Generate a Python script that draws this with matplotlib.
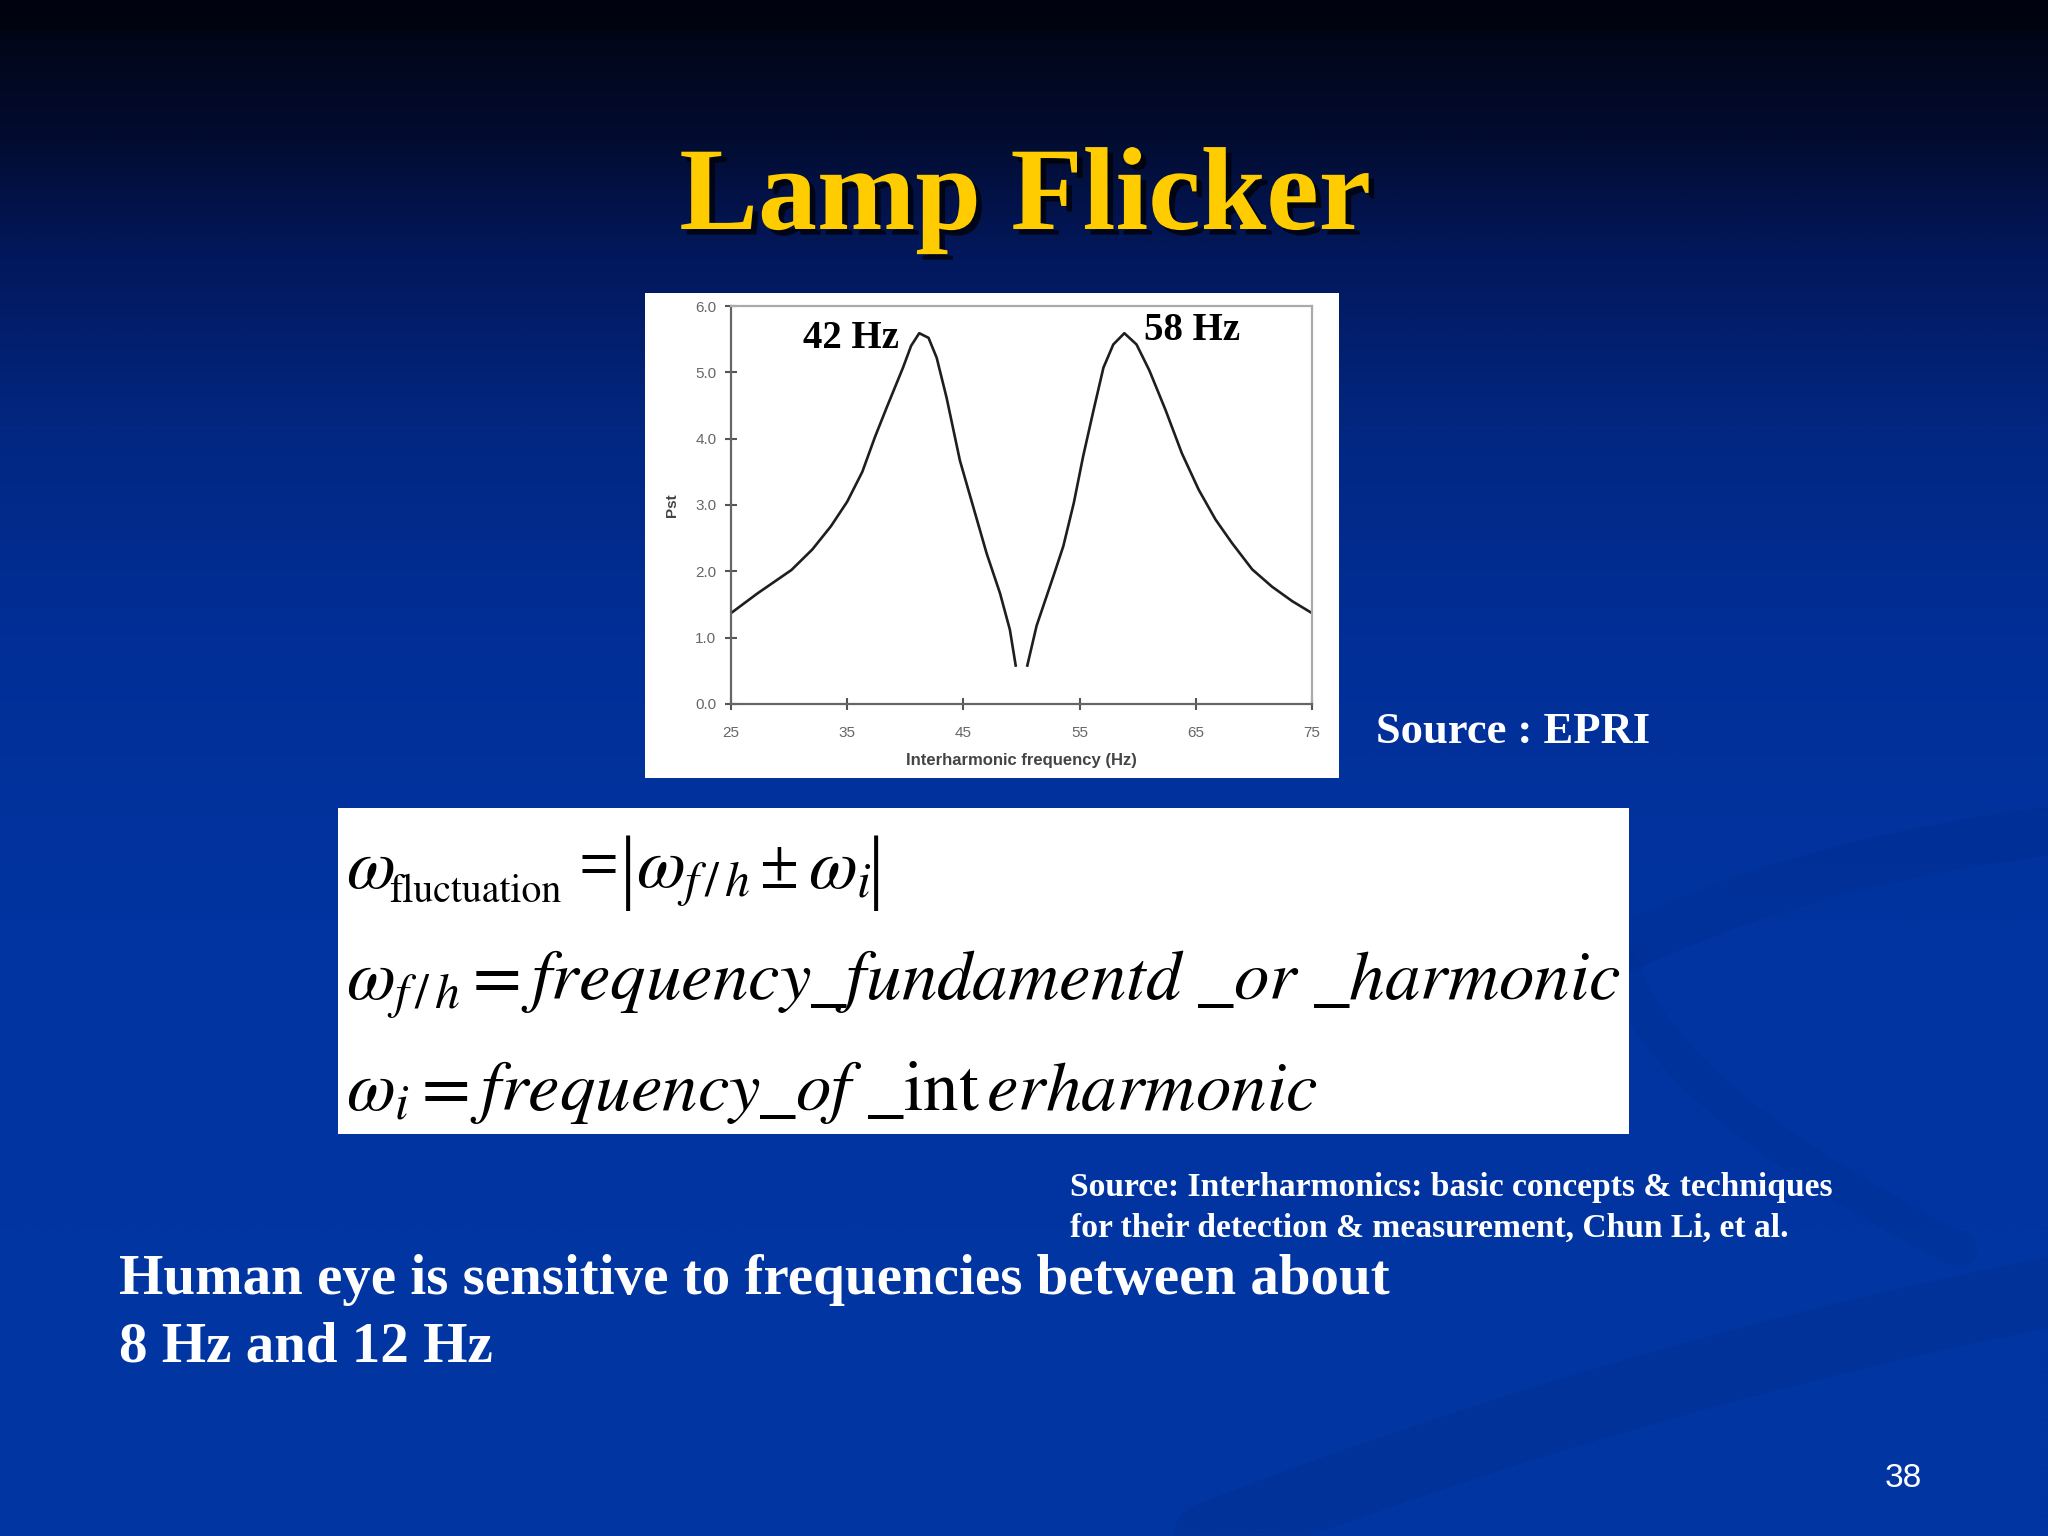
import numpy as np
import matplotlib
matplotlib.use("Agg")
import matplotlib.pyplot as plt
from matplotlib.colors import LinearSegmentedColormap
from matplotlib.patches import Rectangle
import matplotlib.patheffects as pe

# ---------------- data ----------------
freq_hz = [25.0, 27.3, 30.2, 32.0, 33.6, 35.0, 36.3, 37.4, 38.4, 39.8, 40.5,
           41.2, 42.0, 42.7, 43.55, 44.7, 45.85, 47.0, 48.15, 49.0, 49.5,
           np.nan,
           50.5, 51.3, 52.75, 53.6, 54.5, 55.3, 56.2, 57.05, 57.9, 58.85,
           59.9, 61.0, 62.4, 63.8, 65.25, 66.7, 68.1, 69.85, 71.55, 73.3, 75.0]
pst = [1.37, 1.67, 2.02, 2.33, 2.68, 3.05, 3.50, 4.03, 4.47, 5.07, 5.40,
       5.59, 5.52, 5.22, 4.62, 3.67, 2.97, 2.27, 1.67, 1.12, 0.58,
       np.nan,
       0.58, 1.18, 1.93, 2.38, 3.03, 3.73, 4.43, 5.07, 5.42, 5.59,
       5.42, 5.03, 4.43, 3.78, 3.23, 2.78, 2.43, 2.03, 1.77, 1.55, 1.37]
x_ticks = [25, 35, 45, 55, 65, 75]
y_ticks = [0.0, 1.0, 2.0, 3.0, 4.0, 5.0, 6.0]
peak_labels = ["42 Hz", "58 Hz"]
peak_label_pos = [(31.2, 5.37), (60.5, 5.49)]

title = "Lamp Flicker"
source_epri = "Source : EPRI"
source_cite = ["Source: Interharmonics: basic concepts & techniques",
               "for their detection & measurement, Chun Li, et al."]
body_lines = ["Human eye is sensitive to frequencies between about",
              "8 Hz and 12 Hz"]
page_no = "38"
f1_symbol = r"$\omega$"
f1_sub = "fluctuation"
f1_eq = "="
f1_bar = "|"
f1_wfh = r"$\omega_{f\,/\,h}$"
f1_pm = "±"
f1_wi = r"$\omega_{i}$"
formula2 = r"$\omega_{f\,/\,h} = frequency\_fundamentd\ \_or\ \_harmonic$"
formula3 = r"$\omega_{i} = frequency\_of\ \_\mathrm{int}\,erharmonic$"

# ---------------- figure ----------------
W, H = 2048, 1536
fig = plt.figure(figsize=(W / 100, H / 100), dpi=100)
plt.rcParams["mathtext.fontset"] = "stix"

def fx(px):
    return px / W

def fy(py):
    return 1 - py / H

# background gradient
bg = fig.add_axes([0, 0, 1, 1], zorder=-10)
cmap = LinearSegmentedColormap.from_list(
    "slide",
    [(0.0, "#000210"), (0.018, "#00030f"), (0.02, "#010618"), (0.08, "#020b2c"),
     (0.16, "#02175a"), (0.28, "#022782"), (0.42, "#012f98"), (0.6, "#0134a0"),
     (1.0, "#0136a2")])
grad = np.linspace(0, 1, 800).reshape(-1, 1)
bg.imshow(grad, cmap=cmap, aspect="auto", extent=[0, 1, 0, 1], origin="upper")

# subtle darker swooshes (decoration)
def bez(p0, p1, p2, n=200):
    t = np.linspace(0, 1, n)[:, None]
    p0, p1, p2 = map(np.array, (p0, p1, p2))
    pts = (1 - t) ** 2 * p0 + 2 * (1 - t) * t * p1 + t ** 2 * p2
    return pts[:, 0] / W, 1 - pts[:, 1] / H

for (p0, p1, p2, lw, a) in [
        ((1150, 1560), (1600, 1380), (2060, 1290), 50, 0.13),
        ((1600, 960), (1800, 860), (2060, 830), 35, 0.12),
        ((1620, 960), (1660, 1100), (1960, 1250), 25, 0.09)]:
    xs, ys = bez(p0, p1, p2)
    bg.plot(xs, ys, color="#002070", lw=lw, alpha=a, solid_capstyle="round")
bg.set_xlim(0, 1)
bg.set_ylim(0, 1)
bg.axis("off")

# title
fig.text(fx(1025), fy(229), title, ha="center", va="baseline",
         fontsize=85, fontweight="bold", family="Liberation Serif", color="#FFCC00",
         path_effects=[pe.withSimplePatchShadow(offset=(4, -4), shadow_rgbFace="#000000", alpha=0.7)])

# chart white panel
fig.patches.append(Rectangle((fx(645), fy(778)), fx(1339) - fx(645), fy(293) - fy(778),
                             transform=fig.transFigure, facecolor="white",
                             edgecolor="none", zorder=0))

ax = fig.add_axes([fx(731), fy(704), fx(1312) - fx(731), fy(306) - fy(704)], zorder=2)
ax.set_facecolor("white")
ax.plot(freq_hz, pst, color="#1e1e1e", lw=1.9)
ax.set_xlim(25, 75)
ax.set_ylim(0, 6)
ax.set_xticks(x_ticks)
ax.set_yticks(y_ticks)
ax.set_xticklabels([str(v) for v in x_ticks])
ax.set_yticklabels([f"{v:.1f}" for v in y_ticks])
ax.tick_params(direction="inout", length=9, width=1.5, color="#555555",
               labelcolor="#666666", labelsize=11)
ax.tick_params(axis="x", pad=11)
ax.tick_params(axis="y", pad=6)
for lab in ax.get_xticklabels() + ax.get_yticklabels():
    lab.set_family("Liberation Sans")
for s in ["left", "bottom"]:
    ax.spines[s].set_color("#666666")
    ax.spines[s].set_linewidth(1.6)
for s in ["top", "right"]:
    ax.spines[s].set_color("#aaaaaa")
    ax.spines[s].set_linewidth(1.6)
ax.set_xlabel("Interharmonic frequency (Hz)", fontsize=12, fontweight="bold",
              family="Liberation Sans", color="#444444", labelpad=10)
ax.set_ylabel("Pst", fontsize=11, fontweight="bold", family="Liberation Sans",
              color="#444444", labelpad=12)
for lab, (px, py) in zip(peak_labels, peak_label_pos):
    ax.text(px, py, lab, fontsize=28, fontweight="bold", family="Liberation Serif",
            color="black", ha="left", va="baseline")

# Source EPRI
fig.text(fx(1376), fy(743), source_epri, fontsize=32, fontweight="bold",
         family="Liberation Serif", color="white", ha="left", va="baseline")

# formula panel
fig.patches.append(Rectangle((fx(338), fy(1134)), fx(1629) - fx(338), fy(808) - fy(1134),
                             transform=fig.transFigure, facecolor="white",
                             edgecolor="none", zorder=0))
fsize = 46
t2 = fig.text(fx(346), fy(1000), formula2, fontsize=fsize, color="black",
              ha="left", va="baseline", zorder=3)
t3 = fig.text(fx(346), fy(1110), formula3, fontsize=fsize, color="black",
              ha="left", va="baseline", zorder=3)
fig.canvas.draw()
r = fig.canvas.get_renderer()
scale = 1276 / t2.get_window_extent(r).width
S = fsize * scale
t2.set_fontsize(S)
t3.set_fontsize(S)

# first formula line built from pieces
def ftxt(xp, yp, s, size, **kw):
    fig.text(fx(xp), fy(yp), s, fontsize=size, color="black",
             ha="left", va="baseline", zorder=3, **kw)

ftxt(346, 888, f1_symbol, S)
ftxt(389, 902, f1_sub, S * 0.56, family="STIXGeneral")
ftxt(579, 888, f1_eq, S, family="Liberation Serif")
fig.text(fx(628), fy(873), f1_bar, fontsize=S * 1.15, color="black",
         family="Liberation Serif", ha="center", va="center", zorder=3)
ftxt(636, 888, f1_wfh, S)
ftxt(760, 888, f1_pm, S, family="Liberation Serif")
ftxt(808, 888, f1_wi, S)
fig.text(fx(876), fy(873), f1_bar, fontsize=S * 1.15, color="black",
         family="Liberation Serif", ha="center", va="center", zorder=3)

# citation
for i, line in enumerate(source_cite):
    fig.text(fx(1070), fy(1196 + 41 * i), line, fontsize=24.2, fontweight="bold",
             family="Liberation Serif", color="white", ha="left", va="baseline")

# body text
for i, line in enumerate(body_lines):
    fig.text(fx(119), fy(1294 + 68 * i), line, fontsize=41, fontweight="bold",
             family="Liberation Serif", color="white", ha="left", va="baseline")

fig.text(fx(1922), fy(1487), page_no, fontsize=24, family="Liberation Sans",
         color="white", ha="right", va="baseline")

fig.savefig("out.png", dpi=100)
